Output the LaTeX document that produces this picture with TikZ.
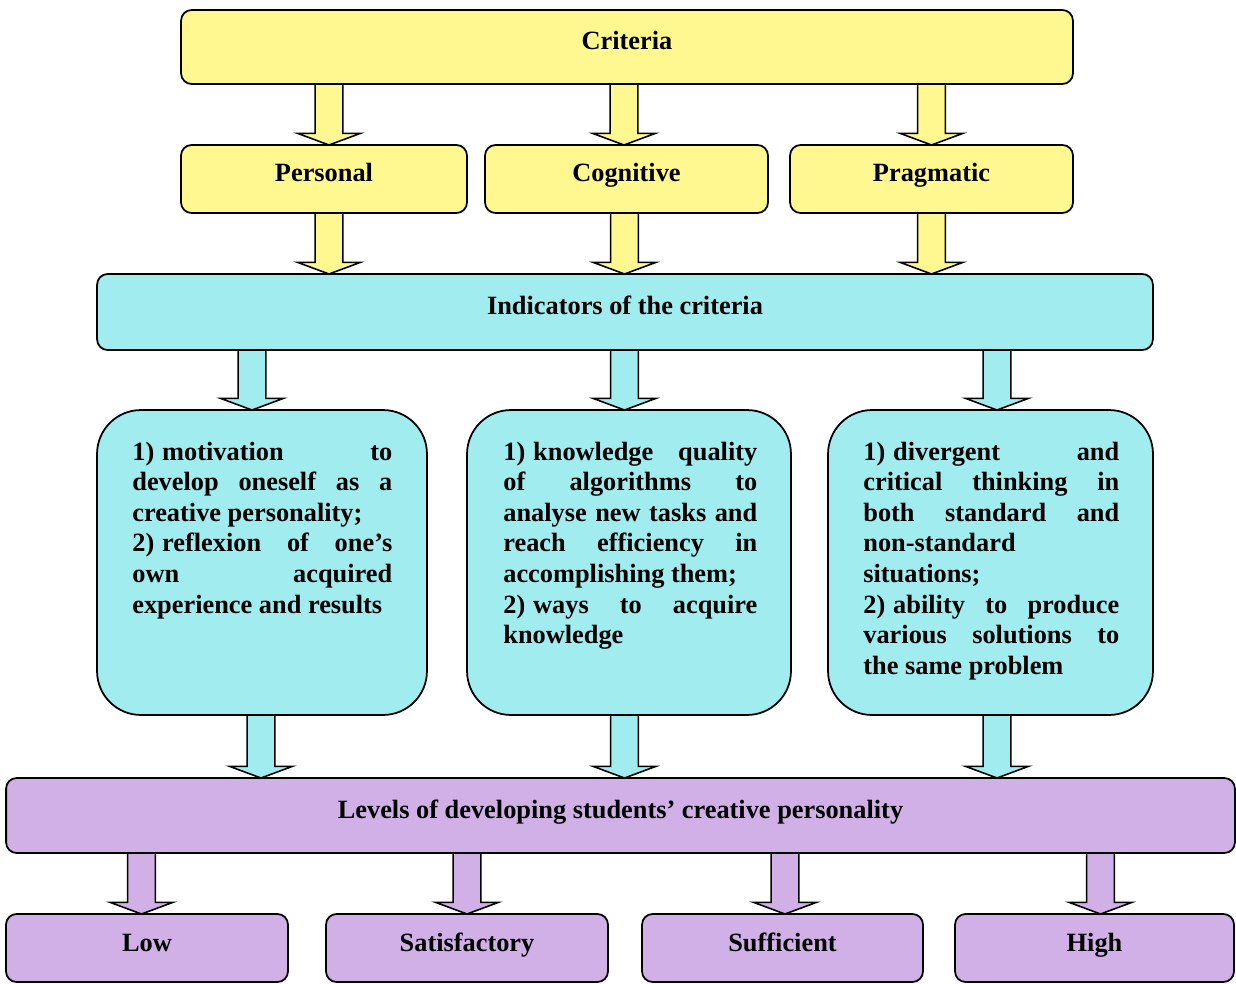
\documentclass[tikz,border=0pt]{standalone}
\usepackage{fontspec}
\setmainfont{Liberation Serif}
\usetikzlibrary{calc}
\definecolor{yel}{HTML}{FFF790}
\definecolor{cya}{HTML}{A0ECEF}
\definecolor{pur}{HTML}{D0B0E6}
\pgfdeclarelayer{bg}
\pgfsetlayers{bg,main}
% #1 fill colour, #2 x position (px), #3 source node, #4 target node
\newcommand\blockarrow[4]{%
  \begin{pgfonlayer}{bg}
  \draw[arrowline, fill=#1] let \p1=(#2,0 |- #3.south), \p2=(#2,0 |- #4.north) in
    (\x1-7.9pt,\y1) -- (\x1-7.9pt,\y2+6.6pt) -- (\x1-17.8pt,\y2+6.6pt) -- (\x1,\y2)
    -- (\x1+17.8pt,\y2+6.6pt) -- (\x1+7.9pt,\y2+6.6pt) -- (\x1+7.9pt,\y1);
  \end{pgfonlayer}}
\begin{document}
\begin{tikzpicture}[x=0.02cm,y=-0.02cm,
  box/.style={draw=black, line width=1pt, rounded corners=6pt, outer sep=0pt, inner sep=0pt,
    font=\fontsize{15}{17.4}\selectfont\bfseries, text height=10pt, text depth=6.6pt},
  bigbox/.style={draw=black, line width=1pt, rounded corners=25pt, outer sep=0pt, inner sep=0pt,
    fill=cya, minimum width=#1, minimum height=6.1cm},
  bodytext/.style={anchor=north west, inner sep=0pt, align=justify, text width=#1,
    font=\fontsize{15}{17.4}\selectfont\bfseries,
    execute at begin node={\parindent=0pt\tolerance=10000\hyphenpenalty=10000\exhyphenpenalty=10000\rule{0pt}{11pt}}},
  arrowline/.style={draw=black, line width=0.9pt, line join=miter}]
\path[use as bounding box] (0,0) rectangle (1236,983);

% top level
\node[box, fill=yel, minimum width=17.84cm, minimum height=1.48cm] (crit) at (627,47) {Criteria};
\node[box, fill=yel, minimum width=5.72cm, minimum height=1.36cm] (pers) at (324,179) {Personal};
\node[box, fill=yel, minimum width=5.66cm, minimum height=1.36cm] (cogn) at (626.5,179) {Cognitive};
\node[box, fill=yel, minimum width=5.66cm, minimum height=1.36cm] (prag) at (931.5,179) {Pragmatic};

% indicators
\node[box, fill=cya, minimum width=21.12cm, minimum height=1.52cm] (ind) at (625,312) {Indicators of the criteria};

\node[bigbox=6.6cm] (b1) at (262,562.5) {};
\node[bigbox=6.48cm] (b2) at (629,562.5) {};
\node[bigbox=6.5cm] (b3) at (990.5,562.5) {};

\node[bodytext=5.2cm] (b1t) at (132,440.6) {1)\hspace{4.5pt}motivation to\linebreak develop oneself as a\linebreak creative personality;\\
2)\hspace{4.5pt}reflexion of one’s\linebreak own acquired\linebreak experience and results};
\node[bodytext=5.08cm] (b2t) at (503,440.6) {1)\hspace{4.5pt}knowledge quality\linebreak of algorithms to\linebreak analyse new tasks and\linebreak reach efficiency in\linebreak accomplishing them;\\
2)\hspace{4.5pt}ways to acquire\linebreak knowledge};
\node[bodytext=5.12cm] (b3t) at (863,440.6) {1)\hspace{4.5pt}divergent and\linebreak critical thinking in\linebreak both standard and\linebreak non-standard\\ situations;\\
2)\hspace{4.5pt}ability to produce\linebreak various solutions to\linebreak the same problem};

% levels
\node[box, fill=pur, minimum width=24.58cm, minimum height=1.5cm] (lev) at (620.5,815.5) {Levels of developing students’ creative personality};
\node[box, fill=pur, minimum width=5.64cm, minimum height=1.36cm] (low) at (147,948) {Low};
\node[box, fill=pur, minimum width=5.64cm, minimum height=1.36cm] (sat) at (467,948) {Satisfactory};
\node[box, fill=pur, minimum width=5.62cm, minimum height=1.36cm] (suf) at (782.5,948) {Sufficient};
\node[box, fill=pur, minimum width=5.58cm, minimum height=1.36cm] (high) at (1094.5,948) {High};

% arrows
\blockarrow{yel}{329}{crit}{pers}
\blockarrow{yel}{624}{crit}{cogn}
\blockarrow{yel}{931.5}{crit}{prag}
\blockarrow{yel}{329}{pers}{ind}
\blockarrow{yel}{624.5}{cogn}{ind}
\blockarrow{yel}{931.5}{prag}{ind}
\blockarrow{cya}{252}{ind}{b1}
\blockarrow{cya}{624.5}{ind}{b2}
\blockarrow{cya}{997}{ind}{b3}
\blockarrow{cya}{261}{b1}{lev}
\blockarrow{cya}{624.5}{b2}{lev}
\blockarrow{cya}{997}{b3}{lev}
\blockarrow{pur}{141.5}{lev}{low}
\blockarrow{pur}{467}{lev}{sat}
\blockarrow{pur}{785}{lev}{suf}
\blockarrow{pur}{1100.5}{lev}{high}
\end{tikzpicture}
\end{document}
